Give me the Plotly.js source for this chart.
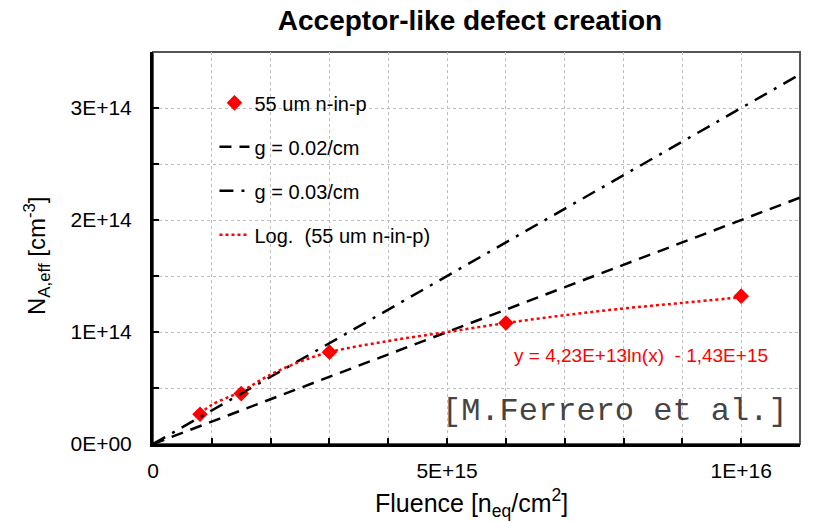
<!DOCTYPE html>
<html>
<head>
<meta charset="utf-8">
<script src="https://cdn.plot.ly/plotly-3.0.1.min.js"></script>
<style>html,body{margin:0;padding:0;background:#fff;}#chart{width:813px;height:521px;}</style>
</head>
<body>
<div id="chart"></div>
<script>
// Measured data (55 um n-in-p)
const fluence = [8e14, 1.5e15, 3e15, 6e15, 1e16];
const naeff = [2.65e13, 4.5e13, 8.2e13, 1.08e14, 1.32e14];

// Reference lines g*fluence (endpoints)
const lineX = [0, 1.1e16];
const g002Y = [0, 2.2e14];
const g003Y = [0, 3.3e14];

// Logarithmic trendline
const trendX = [8e14, 1e15, 1.5e15, 2e15, 2.5e15, 3e15, 4e15, 5e15, 6e15, 7e15, 8e15, 9e15, 1e16];
const trendY = [2.7e13, 3.5e13, 4.7e13, 6.2e13, 7.35e13, 8.2e13, 9.2e13, 1.0e14, 1.08e14, 1.15e14, 1.21e14, 1.26e14, 1.31e14];

// Tick labels
const xTickVals = [0,1e15,2e15,3e15,4e15,5e15,6e15,7e15,8e15,9e15,1e16,1.1e16];
const xTickText = ['0','','','','','5E+15','','','','','1E+16',''];
const yTickVals = [0,5e13,1e14,1.5e14,2e14,2.5e14,3e14,3.5e14];
const yTickText = ['0E+00','','1E+14','','2E+14','','3E+14',''];

const titleText = 'Acceptor-like defect creation';
const xTitle = 'Fluence [n<sub>eq</sub>/cm<sup>2</sup>]';
const yTitle = 'N<sub>A,eff</sub> [cm<sup>-3</sup>]';
const fitText = 'y = 4,23E+13ln(x)  - 1,43E+15';
const sourceText = '[M.Ferrero et al.]';

const font = 'Liberation Sans, Arial, sans-serif';

const traces = [
  {x: fluence, y: naeff, mode: 'markers', name: '55 um n-in-p', legendgroup: 'a',
   marker: {symbol: 'diamond', size: 12, color: '#ff0000'}},
  {x: lineX, y: g002Y, mode: 'lines', name: 'g = 0.02/cm', legendgroup: 'b',
   line: {color: '#000', width: 2.5, dash: '12px,8px'}},
  {x: lineX, y: g003Y, mode: 'lines', name: 'g = 0.03/cm', legendgroup: 'c',
   line: {color: '#000', width: 2.5, dash: '14px,8px,3px,8px'}},
  {x: trendX, y: trendY, mode: 'lines', name: 'Log.  (55 um n-in-p)', legendgroup: 'd',
   line: {color: '#ff0000', width: 2.5, dash: 'dot', shape: 'spline'}}
];

const layout = {
  width: 813, height: 521,
  margin: {l: 153, r: 13, t: 52, b: 77},
  paper_bgcolor: '#fff', plot_bgcolor: '#fff',
  font: {family: font, size: 20, color: '#000'},
  title: {text: '<b>' + titleText + '</b>', font: {family: font, size: 28, color: '#000'},
          x: 470 / 813, xanchor: 'center', y: 1 - 20 / 521, yanchor: 'middle'},
  showlegend: true,
  legend: {x: 0.095, y: 0.92, xanchor: 'left', yanchor: 'top', bgcolor: 'rgba(0,0,0,0)',
           font: {family: font, size: 20}, tracegroupgap: 15, itemwidth: 30},
  xaxis: {range: [0, 1.1e16], tickmode: 'array', tickvals: xTickVals, ticktext: xTickText,
          ticks: 'inside', ticklen: 6, tickwidth: 2, tickcolor: '#000',
          showline: true, linecolor: '#000', linewidth: 3, zeroline: false,
          showgrid: true, gridcolor: '#bdbdbd', griddash: 'dot', gridwidth: 1,
          tickfont: {family: font, size: 21}, ticklabelstandoff: 6},
  yaxis: {range: [0, 3.5e14], tickmode: 'array', tickvals: yTickVals, ticktext: yTickText,
          ticks: 'inside', ticklen: 6, tickwidth: 2, tickcolor: '#000',
          showline: true, linecolor: '#000', linewidth: 3, zeroline: false,
          showgrid: true, gridcolor: '#bdbdbd', griddash: 'dot', gridwidth: 1,
          tickfont: {family: font, size: 21}, ticklabelstandoff: 14},
  shapes: [
    {type: 'rect', xref: 'paper', yref: 'paper', x0: 0, x1: 1, y0: 0, y1: 1,
     line: {color: '#555', width: 2}, fillcolor: 'rgba(0,0,0,0)', layer: 'below'}
  ],
  annotations: [
    {text: xTitle, xref: 'paper', yref: 'paper', x: (471 - 153) / 647, y: (444 - 503) / 392,
     xanchor: 'center', yanchor: 'middle', showarrow: false, font: {family: font, size: 25}},
    {text: yTitle, xref: 'paper', yref: 'paper', x: (37 - 153) / 647, y: (444 - 256) / 392,
     xanchor: 'center', yanchor: 'middle', textangle: -90, showarrow: false, font: {family: font, size: 24}},
    {text: fitText, x: 8.3e15, y: 0.786e14, xref: 'x', yref: 'y',
     showarrow: false, font: {family: font, size: 19, color: '#ff0000'}},
    {text: sourceText, x: 0.984, y: 0.083, xref: 'paper', yref: 'paper',
     xanchor: 'right', yanchor: 'middle', showarrow: false,
     font: {family: 'Courier New, Liberation Mono, monospace', size: 32, color: '#444'}}
  ]
};

Plotly.newPlot('chart', traces, layout, {displayModeBar: false, staticPlot: true});
</script>
</body>
</html>
